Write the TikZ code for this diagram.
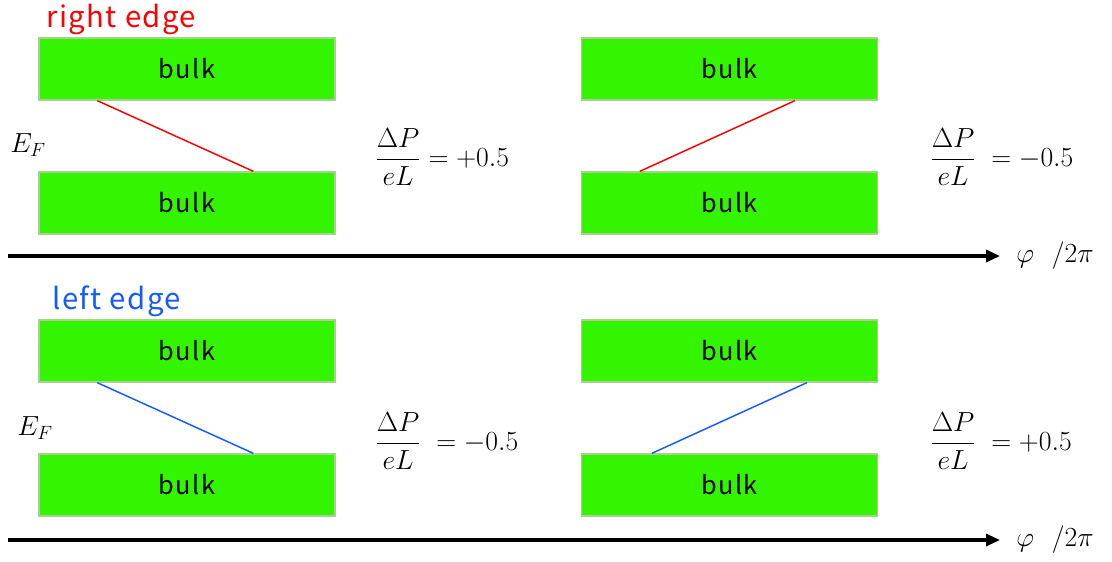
\documentclass[tikz,border=0pt]{standalone}
\usepackage{fontspec}
\newfontfamily\jp[LetterSpace=6]{Noto Sans CJK JP}
\newfontfamily\jptitle[LetterSpace=5]{Noto Sans CJK JP}
\usetikzlibrary{arrows.meta,calc}
\definecolor{bulkgreen}{RGB}{51,245,0}
\definecolor{bulkedge}{RGB}{169,209,142}
\definecolor{redge}{RGB}{255,0,0}
\definecolor{ledge}{RGB}{20,90,255}
\begin{document}
\begin{tikzpicture}[x=0.75pt,y=-0.75pt,
  band/.style={draw=bulkedge, line width=1pt, fill=bulkgreen,
    minimum width=222pt, minimum height=46.5pt, inner sep=0pt,
    font=\jp\fontsize{19}{21}\selectfont},
  edgestate/.style={line width=1.1pt},
  axis/.style={line width=2.3pt, -{Triangle[length=10.5pt,width=9pt]}},
  mathlbl/.style={inner sep=0pt, font=\fontsize{22}{26}\selectfont},
  title/.style={inner sep=0pt, anchor=base west, font=\jptitle\fontsize{22}{25}\selectfont}]
\useasboundingbox (0,0) rectangle (1112,561);

% ---------- upper panel: right edge ----------
\node[title, text=redge] (tright) at (46,27) {right edge};
\node[band] (ua1) at (187,69) {bulk};
\node[band] (ua2) at (187,203) {bulk};
\node[band] (ub1) at (729.5,69) {bulk};
\node[band] (ub2) at (729.5,203) {bulk};
\draw[edgestate, redge] ($(ua1.south west)+(59,0)$) -- ($(ua2.north west)+(215,0)$);
\draw[edgestate, redge] ($(ub1.south west)+(214,0)$) -- ($(ub2.north west)+(59,0)$);
\node[mathlbl] (ef1) at (28,145) {$E_F$};
\node[mathlbl, anchor=west] (dp1) at (375,157) {$\displaystyle\frac{\Delta P}{eL}=+0.5$};
\node[mathlbl, anchor=west] (dp2) at (930,157) {$\displaystyle\frac{\Delta P}{eL}\;=-0.5$};
\coordinate (ax1s) at (8,256);
\coordinate (ax1e) at (1000,256);
\draw[axis] (ax1s) -- (ax1e);
\node[mathlbl] (phi1) at (1055,256) {$\varphi\ \ /2\pi$};

% ---------- lower panel: left edge ----------
\node[title, text=ledge] (tleft) at (52,309) {left edge};
\node[band] (la1) at (187,351) {bulk};
\node[band] (la2) at (187,485) {bulk};
\node[band] (lb1) at (729.5,351) {bulk};
\node[band] (lb2) at (729.5,485) {bulk};
\draw[edgestate, ledge] ($(la1.south west)+(59,0)$) -- ($(la2.north west)+(215,0)$);
\draw[edgestate, ledge] ($(lb1.south west)+(226,0)$) -- ($(lb2.north west)+(71,0)$);
\node[mathlbl] (ef2) at (35,428) {$E_F$};
\node[mathlbl, anchor=west] (dp3) at (375,441) {$\displaystyle\frac{\Delta P}{eL}\;=-0.5$};
\node[mathlbl, anchor=west] (dp4) at (930,441) {$\displaystyle\frac{\Delta P}{eL}\;=+0.5$};
\coordinate (ax2s) at (8,540);
\coordinate (ax2e) at (1000,540);
\draw[axis] (ax2s) -- (ax2e);
\node[mathlbl] (phi2) at (1055,540) {$\varphi\ \ /2\pi$};
\end{tikzpicture}
\end{document}
